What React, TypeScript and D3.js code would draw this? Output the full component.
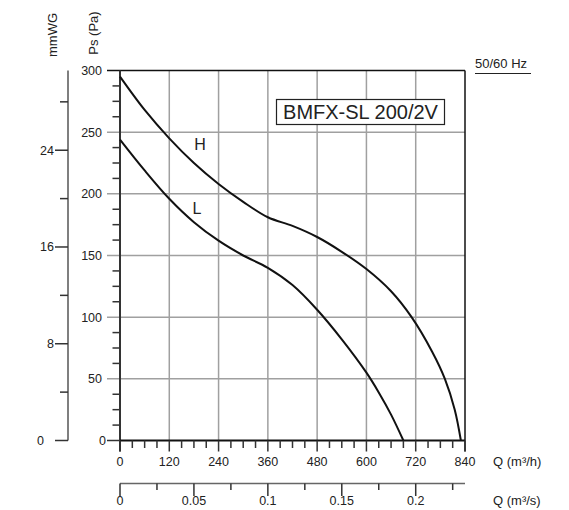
import React from "react";
import * as d3 from "d3";

const qTicks = [0, 120, 240, 360, 480, 600, 720, 840];
const paTicks = [0, 50, 100, 150, 200, 250, 300];
const mmTicks = [0, 8, 16, 24];
const m3sTicks = [0, 0.05, 0.1, 0.15, 0.2];

const qH = [0, 60, 120, 180, 240, 300, 360, 420, 480, 540, 600, 660, 710, 760, 791, 815, 830];
const pH = [295, 268, 245, 225, 208, 193.5, 181, 174, 165, 153, 139, 121, 100, 72, 50, 25, 0];
const qL = [0, 60, 120, 180, 240, 300, 360, 420, 480, 540, 600, 630, 660, 690];
const pL = [244, 219, 196, 177, 162, 150, 140, 126, 106, 82, 55, 39, 21, 0];

const FONT = "'Liberation Sans', Arial, sans-serif";

export default function App() {
  const x = d3.scaleLinear().domain([0, 840]).range([120, 465]);
  const y = d3.scaleLinear().domain([0, 300]).range([440.5, 70.5]);
  const PA_PER_MM = 9.80665;
  const xs = (v: number) => x(v * 3600);
  const line = d3
    .line<[number, number]>()
    .x((d) => x(d[0]))
    .y((d) => y(d[1]))
    .curve(d3.curveCatmullRom.alpha(0.5));
  const hPts = qH.map((q, i) => [q, pH[i]] as [number, number]);
  const lPts = qL.map((q, i) => [q, pL[i]] as [number, number]);

  const minorPa = d3.range(0, 300.01, 12.5).filter((v) => v % 50 !== 0);
  const minorQ = d3.range(0, 840.01, 30).filter((v) => v % 120 !== 0);
  const minorMm = [4, 12, 20, 28];
  const minorS = d3.range(0.025, 0.23, 0.05);

  return (
    <svg
      width={569}
      height={510}
      style={{ position: "absolute", left: 0, top: 0, background: "#fff" }}
      fontFamily={FONT}
    >
      {/* grid */}
      {qTicks.slice(1, -1).map((q) => (
        <line key={"gx" + q} x1={x(q)} x2={x(q)} y1={y(0)} y2={y(300)} stroke="#a0a0a0" strokeWidth={1.5} />
      ))}
      {paTicks.slice(1, -1).map((p) => (
        <line key={"gy" + p} x1={107} x2={x(840)} y1={y(p)} y2={y(p)} stroke="#a0a0a0" strokeWidth={1.5} />
      ))}
      <line x1={107} x2={x(840)} y1={y(300)} y2={y(300)} stroke="#111" strokeWidth={1.5} />
      <line x1={x(840)} x2={x(840)} y1={y(300)} y2={y(0) + 11} stroke="#111" strokeWidth={1.5} />
      <line x1={107} x2={120} y1={y(0)} y2={y(0)} stroke="#333" strokeWidth={1.5} />

      {/* Pa axis */}
      <line x1={120} x2={120} y1={y(300)} y2={y(0) + 11} stroke="#333" strokeWidth={2} />
      {minorPa.map((p) => (
        <line key={"mp" + p} x1={112.5} x2={120} y1={y(p)} y2={y(p)} stroke="#333" strokeWidth={1.5} />
      ))}
      {paTicks.map((p) => (
        <text key={"tp" + p} x={p === 0 ? 106 : 102} y={y(p)} dy="0.35em" textAnchor="end" fontSize={12.5} fill="#222">
          {p}
        </text>
      ))}
      <text transform="translate(98,33) rotate(-90)" textAnchor="middle" fontSize={13} fill="#222">
        Ps (Pa)
      </text>

      {/* mmWG axis */}
      <line x1={68} x2={68} y1={y(300)} y2={y(0)} stroke="#555" strokeWidth={1.5} />
      {minorMm.map((m) => (
        <line key={"mm" + m} x1={60} x2={68} y1={y(m * PA_PER_MM)} y2={y(m * PA_PER_MM)} stroke="#333" strokeWidth={1.5} />
      ))}
      {mmTicks.map((m) => (
        <g key={"tm" + m}>
          <line x1={55} x2={68} y1={y(m * PA_PER_MM)} y2={y(m * PA_PER_MM)} stroke="#333" strokeWidth={1.5} />
          <text x={m === 0 ? 44 : 54} y={y(m * PA_PER_MM)} dy="0.35em" textAnchor="end" fontSize={12.5} fill="#222">
            {m}
          </text>
        </g>
      ))}
      <text transform="translate(57,35) rotate(-90)" textAnchor="middle" fontSize={13} fill="#222">
        mmWG
      </text>

      {/* Q m3/h axis */}
      <line x1={120} x2={x(840)} y1={y(0)} y2={y(0)} stroke="#111" strokeWidth={2} />
      {minorQ.map((q) => (
        <line key={"mq" + q} x1={x(q)} x2={x(q)} y1={y(0)} y2={y(0) + 7.5} stroke="#333" strokeWidth={1.5} />
      ))}
      {qTicks.map((q) => (
        <g key={"tq" + q}>
          <line x1={x(q)} x2={x(q)} y1={y(0)} y2={y(0) + 11} stroke="#333" strokeWidth={1.5} />
          <text x={x(q)} y={466} textAnchor="middle" fontSize={12.5} fill="#222">
            {q}
          </text>
        </g>
      ))}
      <text x={493} y={466} fontSize={13} fill="#222">
        Q (m³/h)
      </text>

      {/* Q m3/s axis */}
      <line x1={120} x2={x(840)} y1={483.5} y2={483.5} stroke="#666" strokeWidth={1.5} />
      {minorS.map((s) => (
        <line key={"ms" + s} x1={xs(s)} x2={xs(s)} y1={483.5} y2={490} stroke="#333" strokeWidth={1.5} />
      ))}
      {m3sTicks.map((s) => (
        <g key={"ts" + s}>
          <line x1={xs(s)} x2={xs(s)} y1={483.5} y2={496} stroke="#333" strokeWidth={1.5} />
          <text x={xs(s)} y={505} textAnchor="middle" fontSize={12.5} fill="#222">
            {s}
          </text>
        </g>
      ))}
      <text x={493} y={505} fontSize={13} fill="#222">
        Q (m³/s)
      </text>

      {/* curves */}
      <path d={line(hPts) ?? ""} fill="none" stroke="#111" strokeWidth={2} />
      <path d={line(lPts) ?? ""} fill="none" stroke="#111" strokeWidth={2} />
      <text x={200} y={150} textAnchor="middle" fontSize={16} fill="#222">
        H
      </text>
      <text x={197} y={214} textAnchor="middle" fontSize={16} fill="#222">
        L
      </text>

      {/* title box */}
      <rect x={276.5} y={99.5} width={168} height={25} fill="#fff" stroke="#222" strokeWidth={1.2} />
      <text x={360.5} y={119} textAnchor="middle" fontSize={20} fill="#222">
        BMFX-SL 200/2V
      </text>

      {/* frequency */}
      <text x={475} y={68} fontSize={13} fill="#222">
        50/60 Hz
      </text>
      <line x1={475} x2={531} y1={73.5} y2={73.5} stroke="#222" strokeWidth={1.2} />
    </svg>
  );
}
